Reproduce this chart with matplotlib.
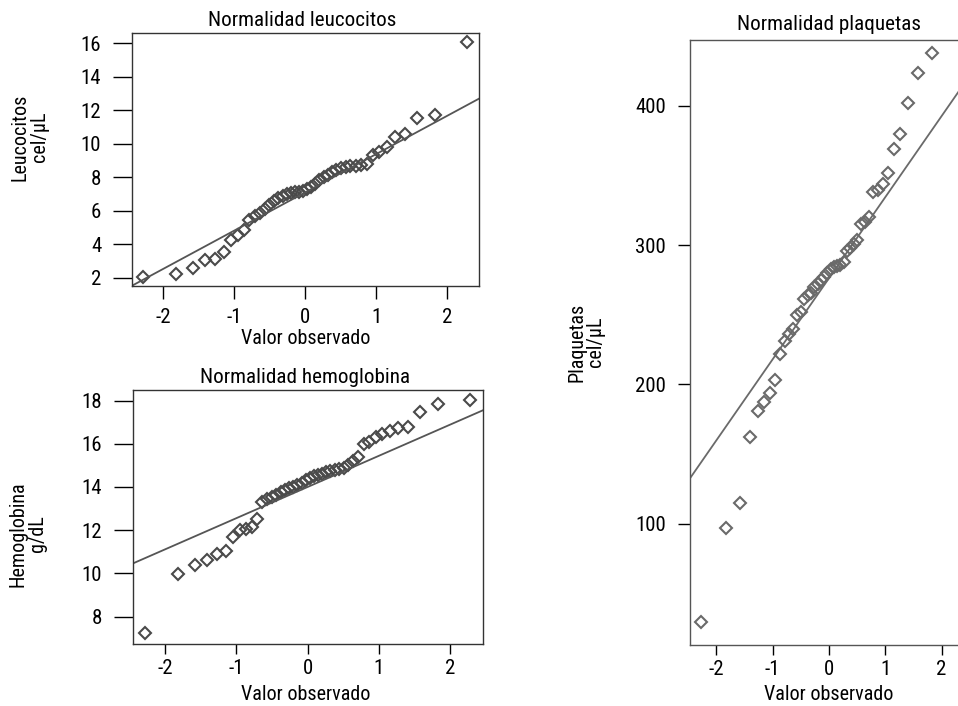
import matplotlib
matplotlib.use("Agg")
import matplotlib.pyplot as plt
from matplotlib import font_manager

# ---------------- data ----------------
# theoretical normal quantiles (x axis) for the 44 observations
q_theor = [-2.278, -1.824, -1.582, -1.408, -1.269, -1.150, -1.046, -0.952, -0.866, -0.786,
           -0.711, -0.639, -0.571, -0.505, -0.441, -0.380, -0.319, -0.259, -0.201, -0.143,
           -0.086, -0.028, 0.028, 0.086, 0.143, 0.201, 0.259, 0.319, 0.380, 0.441,
           0.505, 0.571, 0.639, 0.711, 0.786, 0.866, 0.952, 1.046, 1.150, 1.269,
           1.408, 1.582, 1.824, 2.278]

leucocitos = [2.05, 2.25, 2.6, 3.05, 3.1, 3.55, 4.25, 4.55, 4.85, 5.45,
              5.7, 5.9, 6.1, 6.35, 6.6, 6.75, 6.9, 7.0, 7.05, 7.1,
              7.15, 7.2, 7.3, 7.4, 7.6, 7.85, 8.0, 8.15, 8.3, 8.45,
              8.55, 8.6, 8.65, 8.7, 8.75, 8.8, 9.3, 9.5, 9.8, 10.4,
              10.6, 11.55, 11.7, 16.05]

hemoglobina = [7.25, 9.95, 10.4, 10.6, 10.9, 11.05, 11.7, 12.0, 12.05, 12.15,
               12.5, 13.3, 13.45, 13.55, 13.65, 13.75, 13.85, 13.95, 14.0, 14.1,
               14.2, 14.3, 14.4, 14.5, 14.55, 14.6, 14.7, 14.75, 14.8, 14.85,
               14.9, 15.0, 15.2, 15.4, 16.0, 16.1, 16.3, 16.45, 16.6, 16.75,
               16.8, 17.45, 17.85, 18.05]

# platelets: 43 visible points (last quantile falls outside the picture)
q_plaq = q_theor[:43]
plaquetas = [29, 97, 115, 162, 181, 187, 194, 203, 222, 231,
             236, 240, 250, 252, 261, 264, 266, 270, 272, 275,
             277, 280, 283, 284, 285, 286, 288, 296, 298, 301,
             304, 315, 317, 320, 338, 340, 344, 352, 369, 380,
             402, 424, 438]

# reference lines (intercept, slope)
line_leuco = [7.10, 2.28]
line_hemo = [14.0, 1.444]
line_plaq = [276.3, 58.2]

xticks = [-2, -1, 0, 1, 2]
xtick_labels = ["-2", "-1", "0", "1", "2"]
yticks_leuco = [2, 4, 6, 8, 10, 12, 14, 16]
yticks_hemo = [8, 10, 12, 14, 16, 18]
yticks_plaq = [100, 200, 300, 400]

# ---------------- fonts ----------------
entries = font_manager.fontManager.ttflist
names = {f.name for f in entries}
stretch = "normal"
fam = None
for cand in ["Liberation Sans Narrow", "Arial Narrow", "Nimbus Sans Narrow",
             "Roboto Condensed", "Open Sans Condensed", "Noto Sans Condensed",
             "DejaVu Sans Condensed"]:
    if cand in names:
        fam = cand
        break
if fam is None:
    cond = [f for f in entries if str(f.stretch) in ("condensed", "semi-condensed")
            and f.name in ("Noto Sans", "Open Sans", "Roboto", "DejaVu Sans", "Liberation Sans")]
    if cond:
        fam = cond[0].name
        stretch = str(cond[0].stretch)
    else:
        fam = "Liberation Sans"
plt.rcParams["font.family"] = [fam, "DejaVu Sans"]
plt.rcParams["font.stretch"] = stretch

W, H = 958, 706
fig = plt.figure(figsize=(W / 100, H / 100), dpi=100)


def px_axes(l, r, t, b):
    return fig.add_axes([l / W, 1 - b / H, (r - l) / W, (b - t) / H])


TS = 15.0


def style(ax, ylen, xlen, ypad, xpad, col):
    for s in ax.spines.values():
        s.set_color(col)
        s.set_linewidth(1.0)
    ax.tick_params(axis="y", length=ylen, width=1.0, pad=ypad, labelsize=TS, color="black")
    ax.tick_params(axis="x", length=xlen, width=1.0, pad=xpad, labelsize=TS, color="black")


mk = dict(marker="D", linestyle="none", markersize=6.0, markerfacecolor="none",
          markeredgewidth=1.5)
FS = 14.5
TT = 15.2

# ---- leucocitos ----
ax1 = px_axes(132, 479, 33, 286)
ax1.plot(q_theor, leucocitos, markeredgecolor="#4a4a4a", **mk)
ax1.axline((0, line_leuco[0]), slope=line_leuco[1], color="#555555", lw=1.3)
ax1.set_xlim(-2.44, 2.45)
ax1.set_ylim(1.52, 16.6)
ax1.set_xticks(xticks, xtick_labels)
ax1.set_yticks(yticks_leuco)
style(ax1, 13.7, 9, 8.5, 7, "#333333")
fig.text(302 / W, 1 - 21 / H, "Normalidad leucocitos", ha="center", va="center", fontsize=TT)
fig.text(306 / W, 1 - 338 / H, "Valor observado", ha="center", va="center", fontsize=FS)
fig.text(30 / W, 1 - 137 / H, "Leucocitos\ncel/\u00b5L", ha="center", va="center",
         rotation=90, fontsize=FS, linespacing=1.0)

# ---- hemoglobina ----
ax2 = px_axes(133, 483, 390, 644)
ax2.plot(q_theor, hemoglobina, markeredgecolor="#4a4a4a", **mk)
ax2.axline((0, line_hemo[0]), slope=line_hemo[1], color="#555555", lw=1.3)
ax2.set_xlim(-2.45, 2.46)
ax2.set_ylim(6.73, 18.49)
ax2.set_xticks(xticks, xtick_labels)
ax2.set_yticks(yticks_hemo)
style(ax2, 13.7, 7, 8.5, 3.5, "#333333")
fig.text(305 / W, 1 - 377 / H, "Normalidad hemoglobina", ha="center", va="center", fontsize=TT)
fig.text(306 / W, 1 - 694 / H, "Valor observado", ha="center", va="center", fontsize=FS)
fig.text(28 / W, 1 - 534 / H, "Hemoglobina\ng/dL", ha="center", va="center",
         rotation=90, fontsize=FS, linespacing=1.0)

# ---- plaquetas ----
ax3 = px_axes(690, 968, 40, 645)
ax3.plot(q_plaq, plaquetas, markeredgecolor="#6a6a6a", **mk)
ax3.axline((0, line_plaq[0]), slope=line_plaq[1], color="#6a6a6a", lw=1.3)
ax3.set_xlim(-2.47, 2.47)
ax3.set_ylim(12.8, 447.4)
ax3.set_xticks(xticks, xtick_labels)
ax3.set_yticks(yticks_plaq)
style(ax3, 9, 7, 8.5, 3.5, "#555555")
fig.text(829 / W, 1 - 25 / H, "Normalidad plaquetas", ha="center", va="center", fontsize=TT)
fig.text(829 / W, 1 - 694 / H, "Valor observado", ha="center", va="center", fontsize=FS)
fig.text(586 / W, 1 - 342 / H, "Plaquetas\ncel/\u00b5L", ha="center", va="center",
         rotation=90, fontsize=FS, linespacing=1.0)

fig.savefig("out.png", dpi=100)
